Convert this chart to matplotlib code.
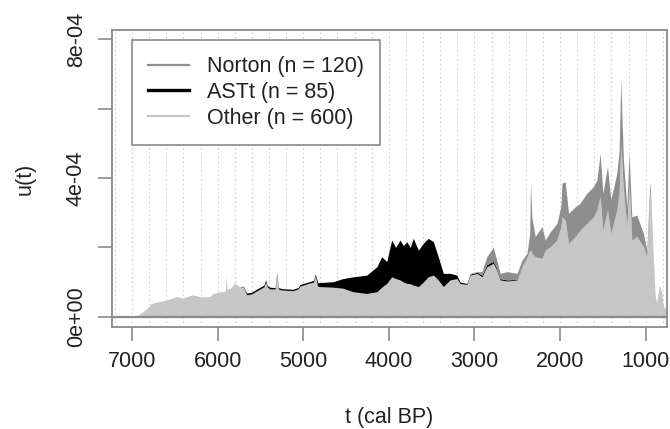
import numpy as np
from matplotlib import pyplot as plt
from matplotlib.lines import Line2D

plt.rcParams['font.family'] = ['Liberation Sans', 'DejaVu Sans']

# years (cal BP) and band heights in units of 1e-4
years = [7000, 6950, 6870, 6800, 6790, 6750, 6600, 6480, 6410, 6290, 6200, 6090, 6050, 5970,
         5910, 5900, 5890, 5850, 5800, 5740, 5700, 5660, 5600, 5540, 5460, 5440, 5420, 5390,
         5330, 5310, 5290, 5250, 5120, 5060, 5040, 4940, 4880, 4860, 4830, 4650, 4535, 4418,
         4258, 4140, 4084, 4025, 3967, 3920, 3870, 3830, 3790, 3750, 3715, 3655, 3597, 3540,
         3480, 3423, 3364, 3285, 3207, 3168, 3090, 3050, 2970, 2913, 2856, 2780, 2740, 2700,
         2620, 2503, 2445, 2386, 2355, 2345, 2330, 2290, 2212, 2173, 2114, 2037, 1990, 1978,
         1940, 1901, 1823, 1766, 1688, 1610, 1570, 1532, 1500, 1446, 1407, 1337, 1310, 1290,
         1275, 1260, 1220, 1194, 1162, 1104, 1026, 987, 955, 948, 917, 890, 870, 840, 812,
         794, 760]
other = [0, .02, .15, .30, .36, .40, .48, .58, .54, .63, .57, .58, .67, .72,
         .74, 1.2, .78, .83, .97, .86, .86, .63, .66, .75, .86, 1.00, .86, .80,
         .80, 1.22, .80, .77, .75, .80, .88, .96, 1.00, 1.18, .87, .85, .82, .72,
         .67, .72, .85, .96, 1.15, 1.10, 1.06, 1.00, .96, .95, .91, .87, 1.00, 1.15,
         1.20, 1.06, .87, 1.06, 1.10, .96, .93, 1.20, 1.25, 1.15, 1.44, 1.54, 1.35, 1.06,
         1.03, 1.06, 1.44, 1.73, 1.90, 1.92, 1.83, 1.73, 1.68, 1.92, 2.02, 2.21, 2.60, 2.88,
         2.79, 2.12, 2.31, 2.50, 2.69, 2.88, 3.08, 3.46, 2.50, 3.08, 2.40, 3.08, 3.60, 5.00,
         4.30, 3.65, 2.60, 3.85, 2.21, 2.31, 2.02, 1.73, 3.40, 3.65, 1.92, .58, .39, .87, .67,
         .29, .20]
astt = [0, 0, 0, 0, 0, 0, 0, 0, 0, 0, 0, 0, 0, 0,
        0, 0, 0, 0, 0, 0, .02, .05, .05, .05, .05, .06, .04, .05,
        .04, .04, .04, .04, .04, .04, .05, .04, .05, .05, .11, .16, .28, .43,
        .53, .72, .88, .63, 1.06, .90, 1.15, 1.05, 1.20, 1.05, 1.35, 1.05, 1.12, 1.11,
        .96, .67, .38, .19, .10, .04, .03, .03, .03, .05, .06, .06, .05, .04,
        .03, .02, .01, .01, 0, 0, 0, 0, 0, 0, 0, 0, 0, 0,
        0, 0, 0, 0, 0, 0, 0, 0, 0, 0, 0, 0, 0, 0,
        0, 0, 0, 0, 0, 0, 0, 0, 0, 0, 0, 0, 0, 0, 0,
        0, 0]
norton = [0, 0, 0, 0, 0, 0, 0, 0, 0, 0, 0, 0, 0, 0,
          0, 0, 0, 0, 0, 0, 0, 0, 0, 0, 0, 0, 0, 0,
          0, 0, 0, 0, 0, 0, 0, 0, 0, 0, 0, 0, 0, 0,
          0, 0, 0, 0, 0, 0, 0, 0, 0, 0, 0, 0, 0, 0,
          0, 0, 0, 0, 0, 0, 0, .02, .02, .10, .23, .40, .23, .15,
          .24, .17, .18, .09, .50, 1.93, 1.05, .58, .92, .29, .43, .48, .60, .97,
          1.10, .86, .86, .77, .87, .87, .86, 1.25, 1.06, 1.25, .97, 1.06, 1.20, 1.87,
          1.30, .87, .57, .86, .67, .62, .38, .19, .30, .24, .08, .02, .01, .03, .01,
          .01, 0]

labels = ['Norton (n = 120)', 'ASTt (n = 85)', 'Other (n = 600)']
colors = {'Norton': '#8e8e8e', 'ASTt': '#000000', 'Other': '#c6c6c6'}

t = np.array(years)
o = np.array(other) * 1e-4
a = o + np.array(astt) * 1e-4
n = a + np.array(norton) * 1e-4

fig = plt.figure(figsize=(6.7, 4.29), dpi=100)
ax = fig.add_axes([0.16716, 0.23776, 0.82836, 0.69231])

for g in range(7200, 700, -200):
    ax.axvline(g, color='#d0d0d0', lw=0.8, ls=(0, (1.5, 2.5)), zorder=0)

ax.fill_between(t, 0, o, color=colors['Other'], lw=0, zorder=1)
ax.fill_between(t, o, a, color=colors['ASTt'], lw=0, zorder=1)
ax.fill_between(t, a, n, color=colors['Norton'], lw=0, zorder=1)
ax.axhline(0, color='#8a8a8a', lw=1.6, zorder=2)

ax.set_xlim(7234, 751)
ax.set_ylim(-0.297e-4, 8.268e-4)
ax.set_xticks([7000, 6000, 5000, 4000, 3000, 2000, 1000])
ax.set_yticks([0, 2e-4, 4e-4, 6e-4, 8e-4])
ax.set_yticklabels(['0e+00', '', '4e-04', '', '8e-04'], rotation=90, va='center')

for s in ax.spines.values():
    s.set_color('#8a8a8a')
    s.set_linewidth(1.3)
ax.tick_params(axis='both', colors='#8a8a8a', labelcolor='#222222', labelsize=15.5,
               length=10, width=1.2)
ax.tick_params(axis='x', pad=7)
ax.tick_params(axis='y', pad=8)

ax.set_xlabel('t (cal BP)', fontsize=15.5, color='#222222')
ax.set_ylabel('u(t)', fontsize=15.5, color='#222222')
ax.xaxis.label.set_va('center')
ax.yaxis.label.set_va('center')
ax.xaxis.set_label_coords(0.5, -0.306)
ax.yaxis.set_label_coords(-0.157, 0.5)

handles = [Line2D([], [], color=colors['Norton'], lw=1.6),
           Line2D([], [], color=colors['ASTt'], lw=2.4),
           Line2D([], [], color=colors['Other'], lw=1.6)]
leg = ax.legend(handles, labels, loc='upper left', bbox_to_anchor=(0.036, 0.966),
                borderaxespad=0, fontsize=15.5, frameon=True, fancybox=False,
                framealpha=1, edgecolor='#8a8a8a', handlelength=1.9,
                handletextpad=0.85, borderpad=0.75, labelspacing=0.22)
leg.get_frame().set_linewidth(1.2)
for txt in leg.get_texts():
    txt.set_color('#222222')

plt.savefig('out.png', dpi=100)
